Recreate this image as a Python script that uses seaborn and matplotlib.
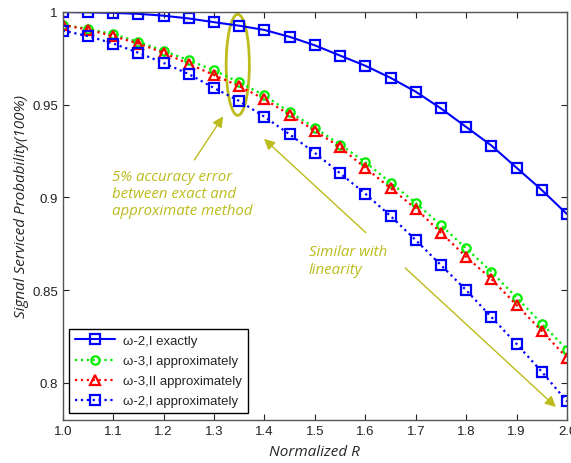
import numpy as np
import pandas as pd
import matplotlib
matplotlib.use("Agg")
import matplotlib.pyplot as plt
import seaborn as sns
from matplotlib.patches import Ellipse

x_vals = [1.0, 1.05, 1.1, 1.15, 1.2, 1.25, 1.3, 1.35, 1.4, 1.45, 1.5,
          1.55, 1.6, 1.65, 1.7, 1.75, 1.8, 1.85, 1.9, 1.95, 2.0]
exact_w2 = [1.0, 0.9998, 0.9995, 0.999, 0.998, 0.9965, 0.9945, 0.9926, 0.9903, 0.9866, 0.982,
            0.9765, 0.971, 0.9645, 0.957, 0.948, 0.938, 0.928, 0.916, 0.904, 0.891]
approx_w3_I = [0.993, 0.991, 0.988, 0.984, 0.979, 0.974, 0.9685, 0.962, 0.955, 0.946, 0.9376,
               0.9285, 0.919, 0.908, 0.897, 0.885, 0.8725, 0.86, 0.846, 0.832, 0.818]
approx_w3_II = [0.993, 0.9905, 0.987, 0.983, 0.978, 0.972, 0.966, 0.960, 0.953, 0.9445, 0.936,
                0.927, 0.916, 0.905, 0.894, 0.881, 0.868, 0.856, 0.842, 0.828, 0.8135]
approx_w2_I = [0.990, 0.987, 0.983, 0.978, 0.9725, 0.9665, 0.959, 0.952, 0.9435, 0.934, 0.924,
               0.913, 0.902, 0.890, 0.877, 0.8635, 0.85, 0.8355, 0.821, 0.806, 0.790]
labels = ["\u03c9-2,I exactly", "\u03c9-3,I approximately",
          "\u03c9-3,II approximately", "\u03c9-2,I approximately"]
x_ticks = [1.0, 1.1, 1.2, 1.3, 1.4, 1.5, 1.6, 1.7, 1.8, 1.9, 2.0]
y_ticks = [0.8, 0.85, 0.9, 0.95, 1.0]
y_tick_labels = ["0.8", "0.85", "0.9", "0.95", "1"]

sns.set_style("ticks")
plt.rcParams['font.family'] = ['Liberation Sans', 'DejaVu Sans']

fig = plt.figure(figsize=(5.71, 4.64), dpi=100)
ax = fig.add_axes([0.110, 0.0927, 0.883, 0.8793])

styles = [
    dict(color="#0000ff", linestyle="-", marker="s", ms=6.5, lw=1.5),
    dict(color="#00ee00", linestyle=":", marker="o", ms=6, lw=1.6),
    dict(color="#ff0000", linestyle=":", marker="^", ms=6.5, lw=1.6),
    dict(color="#0000ff", linestyle=":", marker="s", ms=6.5, lw=1.6),
]
series = [exact_w2, approx_w3_I, approx_w3_II, approx_w2_I]
for ys, lab, st in zip(series, labels, styles):
    sns.lineplot(x=x_vals, y=ys, ax=ax, label=lab, color=st["color"],
                 linestyle=st["linestyle"], marker=st["marker"], markersize=st["ms"],
                 linewidth=st["lw"], markerfacecolor="none",
                 markeredgecolor=st["color"], markeredgewidth=1.6)

ax.set_xlim(1.0, 2.0)
ax.set_ylim(0.78, 1.0)
ax.set_xticks(x_ticks)
ax.set_xticklabels([f"{v:.1f}" for v in x_ticks])
ax.set_yticks(y_ticks)
ax.set_yticklabels(y_tick_labels)
ax.tick_params(direction="in", top=True, right=True, labelsize=9.5, length=4, colors="#222222")
for s in ax.spines.values():
    s.set_color("#555555")
    s.set_linewidth(1.0)

ax.set_xlabel("Normalized R", fontsize=11, style="italic", family="Open Sans")
ax.set_ylabel("Signal Serviced Probability(100%)", fontsize=11, style="italic",
              family="Open Sans")
ax.xaxis.set_label_coords(0.5, -0.058)
ax.yaxis.set_label_coords(-0.067, 0.525)

leg = ax.legend(loc="lower left", fontsize=9.5, frameon=True, fancybox=False,
                edgecolor="black", borderaxespad=0.5, handlelength=3.0,
                labelspacing=0.6, borderpad=0.45, handletextpad=0.6)
leg.get_frame().set_linewidth(1.0)
leg.get_frame().set_alpha(1)

ann = "#bcbc1c"
ax.add_patch(Ellipse((1.347, 0.9715), 0.046, 0.0545, fill=False, edgecolor=ann, lw=2))
ax.annotate("", xy=(1.321, 0.945), xytext=(1.258, 0.919),
            arrowprops=dict(arrowstyle="-|>", color=ann, lw=1, mutation_scale=16))
ax.annotate("", xy=(1.395, 0.9326), xytext=(1.605, 0.880),
            arrowprops=dict(arrowstyle="-|>", color=ann, lw=1, mutation_scale=16))
ax.annotate("", xy=(1.982, 0.786), xytext=(1.675, 0.863),
            arrowprops=dict(arrowstyle="-|>", color=ann, lw=1, mutation_scale=16))
ax.text(1.097, 0.902, "5% accuracy error\nbetween exact and\napproximate method",
        color=ann, fontsize=10.8, style="italic", family="Open Sans", va="center",
        ha="left", linespacing=1.2)
ax.text(1.488, 0.866, "Similar with\nlinearity", color=ann, fontsize=10.8, style="italic",
        family="Open Sans", va="center", ha="left", linespacing=1.2)

fig.savefig("out.png", dpi=100)
